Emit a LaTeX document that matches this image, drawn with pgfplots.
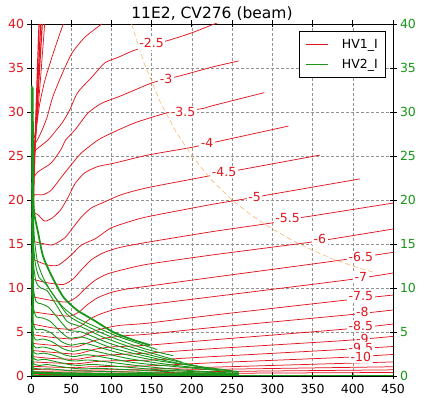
\documentclass[border=0pt]{standalone}
\usepackage{pgfplots}
\pgfplotsset{compat=1.18}
\usepackage{fontspec}
\setmainfont{DejaVu Sans}
\definecolor{rc}{RGB}{225,22,30}
\definecolor{gc}{RGB}{25,150,25}
\definecolor{oc}{RGB}{245,185,110}
\begin{document}
\begin{tikzpicture}
\begin{axis}[
 width=362pt,height=352pt,scale only axis,
 xmin=0,xmax=450,ymin=0,ymax=40,
 xtick={0,50,...,450}, ytick={0,5,...,40},
 ytick pos=left,
 grid=major, grid style={gray!85, dash pattern=on 3pt off 2pt, line width=0.4pt},
 axis line style={line width=0.9pt},
 tick align=center, major tick length=7pt,
 tick style={black, line width=0.8pt},
 y tick label style={text=rc},
 tick label style={font=\fontsize{12.5}{14}\selectfont},
 xticklabel style={yshift=-1pt},
 /pgf/number format/assume math mode=true,
 title={11E2, CV276 (beam)},
 title style={font=\fontsize{15.5}{17}\selectfont, yshift=-6pt},
 legend image code/.code={\draw[#1] (0pt,0pt) -- (22pt,0pt);},
 legend style={at={(0.981,0.98)}, anchor=north east, draw=black, line width=0.8pt,
   font=\fontsize{12.5}{14}\selectfont, row sep=5pt, inner xsep=6pt, inner ysep=6pt,
   /tikz/every odd column/.append style={column sep=12pt}},
 legend cell align=left,
 every axis plot/.append style={line join=round},
]
\coordinate (BL) at (rel axis cs:0,0);
\coordinate (TR) at (rel axis cs:1,1);
% ---- red contours HV1_I ----
\pgfplotsset{rl/.style={rc, line width=0.75pt, smooth, tension=0.4, forget plot}}
\addplot[rl, line width=1.2pt] coordinates {(10,40)(7,32)(4.5,25)(2.5,17)(1.5,9)};
\addplot[rl, line width=1.2pt] coordinates {(12,40)(8.5,33)(5.5,27)(3,21)(2,15)};
\addplot[rl, line width=1.2pt] coordinates {(14,40)(10,34)(7,29)(4,25)(2.5,22)};
\addplot[rl] coordinates {(17,40)(12,34)(8,29.5)(5,26.5)(3,25)};
\addplot[rl] coordinates {(40,40)(27,36.5)(17,33.5)(11,31)(7,28.5)(4,27)};
\addplot[rl] coordinates {(88,40)(67,38.5)(51,36.7)(39,34.4)(27,31.7)(20,29.4)(14,28)(9,27)(5,26.4)};
\addplot[rl] coordinates {(4,25.2)(6,25.7)(21,26.8)(32,28)(39,28.8)(48,30.2)(58,32.2)(76,34)(92,35.6)(108,36.2)(128,37)(150,37.6)(173,38.2)(200,39.0)(225,39.9)(240,40.4)};
\addplot[rl] coordinates {(3,22.5)(8.7,23.2)(25,24.2)(37,25.7)(43,26.8)(55,28)(71,29.9)(88,31)(108,31.7)(129,32.5)(150,33.3)(168,33.75)(185,34.1)(225,35.1)(258,35.8)};
\addplot[rl] coordinates {(3,20.4)(5,20.6)(15,20.6)(25,21.1)(37,22.5)(50,24)(62,25.3)(83,26.8)(100,27.6)(130,28.8)(169,29.9)(189,30.1)(214,30.4)(225,30.7)(290,32.2)};
\addplot[rl] coordinates {(3,18.6)(9,18.3)(17,17.6)(27,18)(37,18.9)(46,20.3)(55,21.9)(67,23.1)(83,23.8)(104,24.2)(145,25.1)(201,26.0)(219,26.4)(235,26.7)(320,28.4)};
\addplot[rl] coordinates {(3,15.3)(12,15.1)(27,14.9)(42,15.7)(50,16.6)(62,18.0)(75,19.1)(92,19.8)(112,20.6)(145,21.4)(225,22.8)(240,23.1)(264,23.5)(359,25.1)};
\addplot[rl] coordinates {(2,13.3)(9,13.0)(21,12.6)(34,12.6)(50,13.75)(63,14.9)(80,15.6)(99,16.8)(121,17.5)(145,18.1)(225,19.5)(278,20.3)(296,20.6)(409,22.4)};
\addplot[rl] coordinates {(2,11.0)(20,10.6)(40,10.4)(52,11.0)(62,12.0)(75,13.2)(90,14.0)(110,14.6)(145,15.2)(225,16.4)(300,17.4)(320,17.8)(350,18.2)(450,19.65)};
\addplot[rl] coordinates {(2,9.0)(25,8.6)(45,8.4)(57,9.0)(67,9.9)(80,10.9)(95,11.6)(115,12.1)(145,12.7)(225,13.75)(343,15.15)(376,15.6)(450,16.7)};
\addplot[rl] coordinates {(2,7.3)(25,7.0)(48,6.8)(60,7.3)(70,8.1)(83,8.9)(100,9.5)(120,9.9)(145,10.2)(225,11.2)(372,13.0)(450,14.05)};
\addplot[rl] coordinates {(2,5.9)(25,5.5)(50,5.3)(62,5.7)(72,6.4)(85,7.0)(105,7.6)(125,7.9)(145,8.1)(225,9.0)(392,10.9)(450,11.7)};
\addplot[rl] coordinates {(2,4.7)(25,4.4)(52,4.2)(64,4.5)(75,5.0)(90,5.4)(110,5.75)(145,6.0)(225,6.9)(389,8.6)(450,9.2)};
\addplot[rl] coordinates {(2,3.7)(25,3.5)(54,3.3)(66,3.6)(78,4.0)(95,4.35)(120,4.6)(145,4.75)(225,5.5)(389,6.9)(450,7.5)};
\addplot[rl] coordinates {(2,2.9)(25,2.7)(55,2.5)(68,2.75)(80,3.05)(100,3.3)(145,3.5)(225,4.1)(387,5.3)(450,5.9)};
\addplot[rl] coordinates {(2,2.2)(25,2.0)(56,1.9)(70,2.1)(85,2.3)(110,2.45)(145,2.6)(225,3.1)(385,4.0)(450,4.5)};
\addplot[rl] coordinates {(2,1.6)(25,1.5)(57,1.4)(72,1.55)(90,1.7)(145,1.8)(225,2.2)(385,3.0)(450,3.35)};
\addplot[rl] coordinates {(2,1.1)(30,1.0)(58,0.95)(75,1.05)(145,1.15)(225,1.5)(385,2.1)(450,2.45)};
\addplot[rl] coordinates {(2,0.75)(60,0.65)(145,0.8)(225,1.0)(450,1.6)};
\addplot[rl] coordinates {(2,0.5)(60,0.45)(145,0.6)(225,0.75)(450,1.05)};
\addplot[rl] coordinates {(2,0.3)(145,0.35)(225,0.5)(450,0.7)};
\addplot[rl] coordinates {(2,0.15)(225,0.3)(450,0.4)};
% ---- green curves HV2_I ----
\pgfplotsset{gl/.style={gc, line width=0.9pt, smooth, tension=0.4, forget plot}}
\addplot[gl, line width=2pt] coordinates {(2,32.8)(2.5,20)(2.2,8)(2,0)};
\addplot[gl, line width=1.8pt] coordinates {(0.8,33)(1.5,27)(2.5,21)(4,18.5)(9,16.2)(15,13.6)(26,11.3)(40,9.0)(57,7.5)(77,6.4)(102,5.0)(127,4.1)(148,3.5)};
\addplot[gl] coordinates {(0.8,30)(2,22)(4,16)(8,13)(15,11.2)(25,9.6)(40,7.8)(57,6.6)(80,5.6)(105,4.6)(130,3.8)(157,3.0)};
\addplot[gl] coordinates {(0.8,26)(2,17)(5,13)(10,11.2)(18,10.5)(30,8.9)(45,7.0)(60,6.1)(85,5.0)(115,3.9)(145,3.0)(177,2.3)};
\addplot[gl] coordinates {(0.8,22)(2,14)(6,10.8)(12,10.0)(20,9.7)(32,8.0)(45,6.2)(62,5.6)(90,4.4)(120,3.4)(150,2.6)(187,1.6)};
\addplot[gl] coordinates {(0.8,18)(2,11)(6,8.5)(13,8.2)(22,7.8)(35,6.4)(47,5.2)(63,5.0)(95,3.8)(130,2.8)(165,2.0)(208,1.1)};
\addplot[gl] coordinates {(0.8,14)(2,8.5)(6,6.8)(14,6.6)(24,6.2)(37,5.0)(48,4.3)(65,4.4)(100,3.2)(140,2.3)(180,1.5)(226,0.8)};
\addplot[gl] coordinates {(0.8,11)(2,6.5)(6,5.3)(14,5.3)(25,4.9)(38,3.9)(50,3.5)(68,3.7)(110,2.6)(160,1.7)(250,0.6)};
\addplot[gl] coordinates {(0.8,8)(2,5)(6,4.1)(15,4.2)(26,3.9)(40,3.1)(52,2.8)(70,3.0)(120,2.0)(180,1.2)(258,0.5)};
\addplot[gl] coordinates {(0.8,6)(2,3.8)(6,3.2)(15,3.3)(28,3.0)(42,2.4)(54,2.2)(72,2.4)(130,1.5)(200,0.9)(258,0.4)};
\addplot[gl] coordinates {(0.8,4.5)(2,2.9)(7,2.5)(16,2.6)(30,2.3)(45,1.8)(56,1.7)(75,1.8)(140,1.1)(200,0.6)(258,0.3)};
\addplot[gl] coordinates {(0.8,3)(2,2.1)(8,1.8)(17,1.9)(32,1.6)(48,1.3)(60,1.2)(80,1.3)(160,0.7)(258,0.25)};
\addplot[gl] coordinates {(0.8,2)(3,1.4)(10,1.2)(20,1.3)(35,1.1)(50,0.9)(65,0.8)(90,0.85)(180,0.45)(258,0.2)};
\addplot[gl] coordinates {(0.8,1.2)(3,0.9)(12,0.8)(25,0.8)(50,0.6)(100,0.5)(200,0.25)(258,0.15)};
\addplot[gl, line width=2.5pt] coordinates {(0.8,0.4)(30,0.3)(100,0.2)(258,0.12)};
\addplot[gl, line width=1pt, sharp plot] coordinates {(0,0.05)(450,0.05)};
% ---- orange dashed line ----
\addplot[oc, line width=0.6pt, dash pattern=on 5pt off 3pt, forget plot] coordinates {(125,40)(140,35.7)(160,31.25)(180,27.8)(200,25)(225,22.2)(250,20)(275,18.2)(300,16.7)(325,15.4)(350,14.3)(375,13.3)(400,12.5)(425,11.8)};
% ---- legend ----
\addlegendimage{draw=rc, line width=0.75pt}
\addlegendentry{HV1\_I}
\addlegendimage{draw=gc, line width=0.75pt}
\addlegendentry{HV2\_I}
% ---- contour labels ----
\tikzset{cl/.style={fill=white, text=rc, inner sep=1.5pt, font=\fontsize{12.5}{14}\selectfont}}
\node[cl] at (axis cs:150,37.8) {-2.5};
\node[cl] at (axis cs:168,33.75) {-3};
\node[cl] at (axis cs:189,30) {-3.5};
\node[cl] at (axis cs:219,26.5) {-4};
\node[cl] at (axis cs:240,23.2) {-4.5};
\node[cl] at (axis cs:278,20.3) {-5};
\node[cl] at (axis cs:319,18) {-5.5};
\node[cl] at (axis cs:359,15.6) {-6};
\node[cl] at (axis cs:410,13.5) {-6.5};
\node[cl] at (axis cs:410,11.25) {-7};
\node[cl] at (axis cs:410,9.1) {-7.5};
\node[cl] at (axis cs:412,7.3) {-8};
\node[cl] at (axis cs:410,5.7) {-8.5};
\node[cl] at (axis cs:412,4.2) {-9};
\node[cl] at (axis cs:410,3.2) {-9.5};
\node[cl] at (axis cs:410,2.2) {-10};
\end{axis}
\begin{axis}[
 width=362pt,height=352pt,scale only axis,
 xmin=0,xmax=450,ymin=0,ymax=40,
 axis x line=none, axis y line*=right,
 ytick={0,5,...,40},
 axis line style={line width=0.9pt},
 tick align=center, major tick length=7pt,
 tick style={black, line width=0.8pt},
 y tick label style={text=gc},
 tick label style={font=\fontsize{12.5}{14}\selectfont},
 /pgf/number format/assume math mode=true,
]
\end{axis}
\pgfresetboundingbox
\path[use as bounding box] ([shift={(-31pt,-22pt)}]BL) rectangle ([shift={(31pt,24pt)}]TR);
\end{tikzpicture}
\end{document}
